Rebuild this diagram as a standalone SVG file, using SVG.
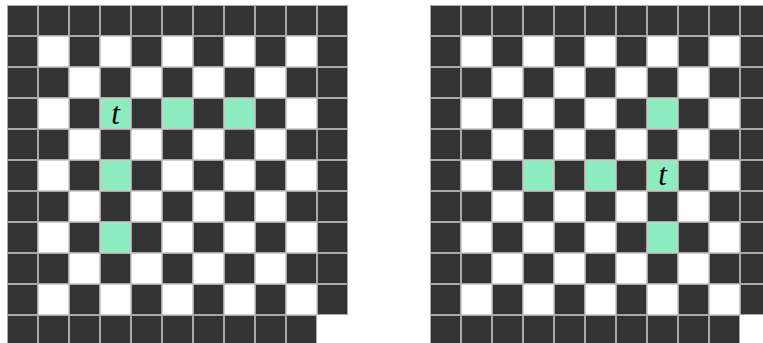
<svg xmlns="http://www.w3.org/2000/svg" xmlns:xlink="http://www.w3.org/1999/xlink" width="763" height="343" viewBox="0 0 763 343">
<style>
.d{fill:#333333;stroke:#a8a8a8;stroke-width:1}
.w{fill:#ffffff;stroke:#d0d0d0;stroke-width:1}
.g{fill:#8eedc0;stroke:#c8c8c8;stroke-width:1}
.t{font-family:"Liberation Serif","DejaVu Serif",serif;font-style:italic;font-size:31px;fill:#000;text-anchor:middle}
</style>
<defs>
<rect id="d" class="d" width="30" height="30"/>
<rect id="w" class="w" width="30" height="30"/>
<rect id="g" class="g" width="30" height="30"/>
<g id="oddrow">
<use href="#d" x="0"/><use href="#w" x="31"/><use href="#d" x="62"/><use href="#w" x="93"/><use href="#d" x="124"/><use href="#w" x="155"/><use href="#d" x="186"/><use href="#w" x="217"/><use href="#d" x="248"/><use href="#w" x="279"/><use href="#d" x="310"/>
</g>
<g id="evenrow">
<use href="#d" x="0"/><use href="#d" x="31"/><use href="#w" x="62"/><use href="#d" x="93"/><use href="#w" x="124"/><use href="#d" x="155"/><use href="#w" x="186"/><use href="#d" x="217"/><use href="#w" x="248"/><use href="#d" x="279"/><use href="#d" x="310"/>
</g>
<g id="board">
<g>
<use href="#d" x="0"/><use href="#d" x="31"/><use href="#d" x="62"/><use href="#d" x="93"/><use href="#d" x="124"/><use href="#d" x="155"/><use href="#d" x="186"/><use href="#d" x="217"/><use href="#d" x="248"/><use href="#d" x="279"/><use href="#d" x="310"/>
</g>
<use href="#oddrow" y="31"/>
<use href="#evenrow" y="62"/>
<use href="#oddrow" y="93"/>
<use href="#evenrow" y="124"/>
<use href="#oddrow" y="155"/>
<use href="#evenrow" y="186"/>
<use href="#oddrow" y="217"/>
<use href="#evenrow" y="248"/>
<use href="#oddrow" y="279"/>
<g transform="translate(0,310)">
<use href="#d" x="0"/><use href="#d" x="31"/><use href="#d" x="62"/><use href="#d" x="93"/><use href="#d" x="124"/><use href="#d" x="155"/><use href="#d" x="186"/><use href="#d" x="217"/><use href="#d" x="248"/><use href="#d" x="279"/>
</g>
</g>
</defs>
<rect width="763" height="343" fill="#ffffff"/>
<g id="left-board" transform="translate(7.5,5.5)">
<use href="#board"/>
<use href="#g" x="93" y="93"/>
<use href="#g" x="155" y="93"/>
<use href="#g" x="217" y="93"/>
<use href="#g" x="93" y="155"/>
<use href="#g" x="93" y="217"/>
<text class="t" x="108" y="118.5">t</text>
</g>
<g id="right-board" transform="translate(430.5,5.5)">
<use href="#board"/>
<use href="#g" x="217" y="93"/>
<use href="#g" x="93" y="155"/>
<use href="#g" x="155" y="155"/>
<use href="#g" x="217" y="155"/>
<use href="#g" x="217" y="217"/>
<text class="t" x="232" y="179.5">t</text>
</g>
</svg>
